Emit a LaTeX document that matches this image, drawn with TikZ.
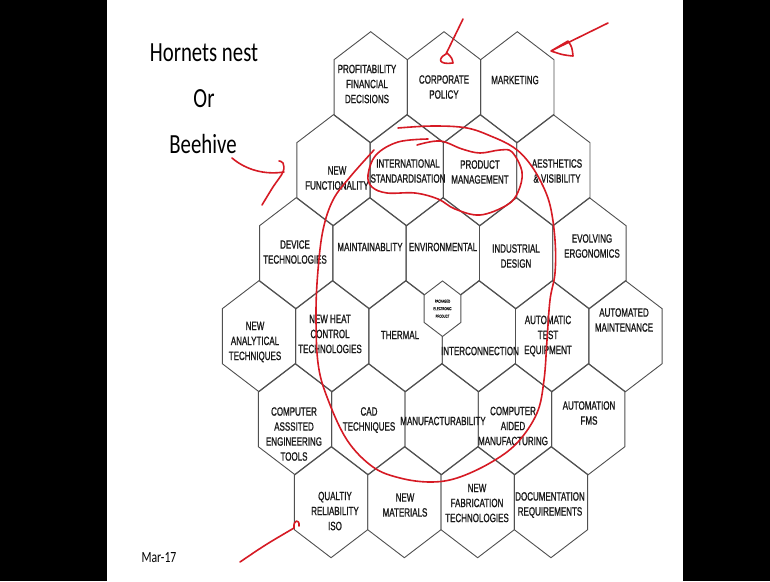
\documentclass[tikz,border=0pt]{standalone}
\usepackage{fontspec}
\setmainfont{Liberation Sans}
\newfontfamily\slidefont{Carlito}
\newfontfamily\hexfont[FakeBold=1.3]{Liberation Sans}
\usepackage{xcolor}
\usetikzlibrary{math}
\definecolor{penred}{RGB}{214,26,36}
\definecolor{hexgrey}{RGB}{80,80,80}

\begin{document}
\begin{tikzpicture}[x=1pt,y=-1pt,
  hex/.style={hexgrey,line width=0.9pt,line join=miter},
  hexlbl/.style={align=center,inner sep=0pt,text=black!90,font=\hexfont\fontsize{8}{10}\selectfont,yscale=1.5,transform shape},
  tinylbl/.style={align=center,inner sep=0pt,text=black!90,font=\hexfont\fontsize{2.8}{5}\selectfont,yscale=1.5,transform shape},
  slide/.style={anchor=base,inner sep=0pt,font=\slidefont\fontsize{20.8}{24}\selectfont,yscale=1.33,transform shape},
  pen/.style={penred,line width=1.6pt,line cap=round,line join=round}]

\fill[black] (0,0) rectangle (770,581);
\fill[white] (107,0) rectangle (683,581);
\useasboundingbox (0,0) rectangle (770,581);

\tikzmath{
\w = 73.3;
\h = 83;
\a = 36.65;
\b = 27.5;
\c = 55.5;
\xo = 370.7;
\yo = 87.2;
}
%
\foreach \j/\ilist in {0/{0,2,4},1/{-1,1,3,5},2/{-2,0,2,4,6},3/{-3,-1,1,3,5,7},4/{-2,0,2,4,6},5/{-1,1,3,5}}{
 \foreach \i in \ilist {
  \tikzmath{
   \cx = \xo + \i*\w/2 - 0.6*\j;
   \cy = \yo + \j*\h;
  }
  \draw[hex] (\cx,\cy-\c) -- (\cx+\a,\cy-\b) -- (\cx+\a,\cy+\b) -- (\cx,\cy+\c)
   -- (\cx-\a,\cy+\b) -- (\cx-\a,\cy-\b) -- cycle;
 }
}

% the small one in the middle
\tikzmath{
\px = \xo + \w - 1.5;
\py = \yo + 2*\h + \c;
}
\filldraw[hex,fill=white] (\px,\py-\c/2) -- (\px+\a/2,\py-\b/2) -- (\px+\a/2,\py+\b/2) -- (\px,\py+\c/2)
 -- (\px-\a/2,\py+\b/2) -- (\px-\a/2,\py-\b/2) -- cycle;
\node[tinylbl] (pep) at (\px,\py) {PACKAGED\\ELECTRONIC\\PRODUCT};

\node[hexlbl] (profit) at (367,84) {PROFITABILITY\\FINANCIAL\\DECISIONS};
\node[hexlbl] (corp) at (444,87) {CORPORATE\\POLICY};
\node[hexlbl] (market) at (515,80) {MARKETING};

\node[hexlbl] (newfunc) at (337,178) {NEW\\FUNCTIONALITY};
\node[hexlbl] (intstd) at (408,171) {INTERNATIONAL\\STANDARDISATION};
\node[hexlbl] (prodman) at (480,172) {PRODUCT\\MANAGEMENT};
\node[hexlbl] (aesth) at (557,171) {AESTHETICS\\\& VISIBILITY};

\node[hexlbl] (devtech) at (295,252) {DEVICE\\TECHNOLOGIES};
\node[hexlbl] (maint) at (370,247) {MAINTAINABLITY};
\node[hexlbl] (envir) at (443,247) {ENVIRONMENTAL};
\node[hexlbl] (inddes) at (516,256) {INDUSTRIAL\\DESIGN};
\node[hexlbl] (ergo) at (592,246) {EVOLVING\\ERGONOMICS};

\node[hexlbl] (analyt) at (255,342) {NEW\\ANALYTICAL\\TECHNIQUES};
\node[hexlbl] (heat) at (330,334) {NEW HEAT\\CONTROL\\TECHNOLOGIES};
\node[hexlbl] (thermal) at (400,335) {THERMAL};
\node[hexlbl] (inter) at (480,351) {INTERCONNECTION};
\node[hexlbl] (ate) at (548,336) {AUTOMATIC\\TEST\\EQUIPMENT};
\node[hexlbl] (automaint) at (624,320) {AUTOMATED\\MAINTENANCE};

\node[hexlbl] (cae) at (294,434) {COMPUTER\\ASSSITED\\ENGINEERING\\TOOLS};
\node[hexlbl] (cad) at (369,420) {CAD\\TECHNIQUES};
\node[hexlbl] (manuf) at (443,421) {MANUFACTURABILITY};
\node[hexlbl] (cam) at (513,426) {COMPUTER\\AIDED\\MANUFACTURING};
\node[hexlbl] (fms) at (589,413) {AUTOMATION\\FMS};

\node[hexlbl] (qual) at (335,511) {QUALTIY\\RELIABILITY\\ISO};
\node[hexlbl] (newmat) at (405,505) {NEW\\MATERIALS};
\node[hexlbl] (newfab) at (477,503) {NEW\\FABRICATION\\TECHNOLOGIES};
\node[hexlbl] (docreq) at (550,505) {DOCUMENTATION\\REQUIREMENTS};

% slide text
\node[slide] (hornets) at (204,61) {Hornets nest};
\node[slide] (or) at (204,107) {Or};
\node[slide] (beehive) at (203,153) {Beehive};
\node[slide,font=\slidefont\fontsize{11.7}{14}\selectfont] (date) at (159,562.7) {Mar-17};

% red pen
\draw[pen] (463,19) -- (446,54) .. controls (437,59) and (439,65) .. (453,63) .. controls (452,58) .. (447,53);
\draw[pen] (608,23) -- (551,51) .. controls (560,46) .. (568,41) .. controls (572,47) .. (573,56) .. controls (563,55) .. (551,51);
\draw[pen] (232,158) .. controls (246,170) and (265,175) .. (284,172);
\draw[pen] plot[smooth,tension=0.6] coordinates {(279,161) (283,163) (283,172) (273,187) (262,205)};
\draw[pen] (240,562) .. controls (265,545) .. (294,528) .. controls (293,519) and (300,519) .. (299,526);

\draw[pen] plot[smooth,tension=0.6] coordinates {(398,128) (433,126) (467,128) (493,137) (513,147) (527,160)
 (540,180) (550,205) (555,240) (555,273) (550,300) (547,340) (544,380) (537,413) (517,443) (490,463)
 (457,478) (430,482) (400,478) (373,467) (347,440) (327,397) (318,363) (316,313) (318,270) (323,230)
 (333,200) (350,177) (374,150)};
\draw[pen] plot[smooth,tension=0.6] coordinates {(417,145) (440,141) (462,149) (480,153) (500,150) (512,152)
 (522,172) (518,192) (507,205) (480,215) (455,209) (438,199) (415,193) (387,193) (372,187) (368,175)
 (376,155) (398,142) (428,139)};

\end{tikzpicture}
\end{document}
